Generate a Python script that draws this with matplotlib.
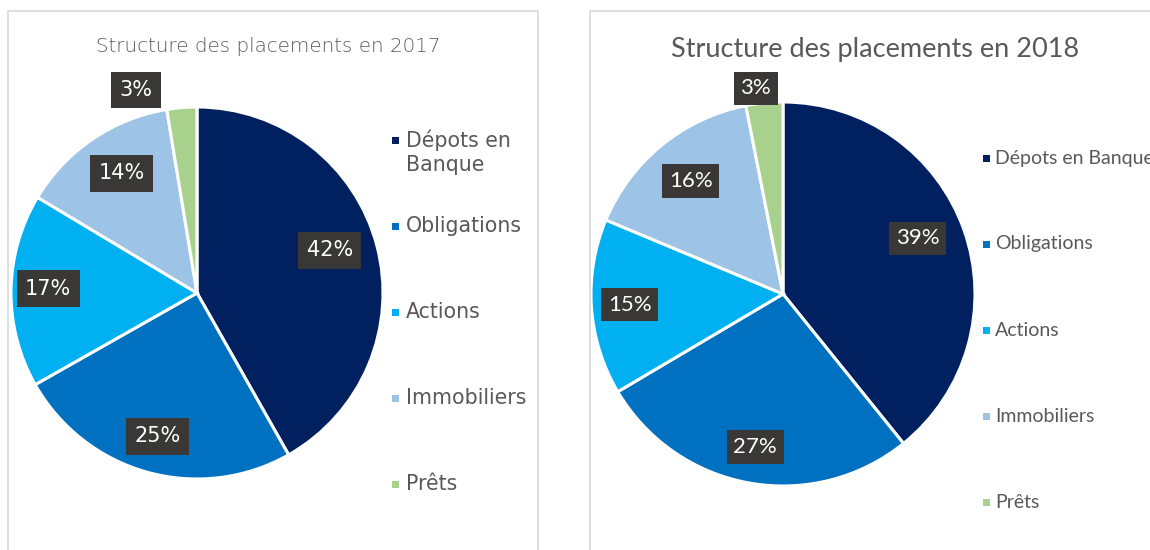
import numpy as np
import matplotlib
matplotlib.use("Agg")
import matplotlib.pyplot as plt
from matplotlib.patches import Rectangle

categories = ["Dépots en Banque", "Obligations", "Actions", "Immobiliers", "Prêts"]
legend_2017 = ["Dépots en\nBanque", "Obligations", "Actions", "Immobiliers", "Prêts"]
values_2017 = [41.8, 25.0, 16.8, 13.8, 2.6]
values_2018 = [39.2, 27.3, 14.8, 15.6, 3.1]
labels_2017 = ["42%", "25%", "17%", "14%", "3%"]
labels_2018 = ["39%", "27%", "15%", "16%", "3%"]
colors = ["#002060", "#0070C0", "#00B0F0", "#9DC3E6", "#A9D18E"]

W, H = 1150, 550
fig = plt.figure(figsize=(W / 100, H / 100), dpi=100)
fig.patch.set_facecolor("white")

def px_axes(cx, cy, r):
    return fig.add_axes([(cx - r) / W, (H - cy - r) / H, 2 * r / W, 2 * r / H])

# panel borders
fig.patches.append(Rectangle((8 / W, -0.05), 530 / W, (H - 11) / H + 0.05,
                             transform=fig.transFigure, fill=False,
                             edgecolor="#d9d9d9", lw=1.2))
fig.patches.append(Rectangle((590 / W, -0.05), 600 / W, (H - 11) / H + 0.05,
                             transform=fig.transFigure, fill=False,
                             edgecolor="#d9d9d9", lw=1.2))

def draw_pie(cx, cy, r, vals, labs, dists, nudges, font, fsize, pad):
    ax = px_axes(cx, cy, r)
    wedges, _ = ax.pie(vals, colors=colors, startangle=90, counterclock=False,
                       radius=1.0, wedgeprops=dict(edgecolor="white", linewidth=2.2))
    for w, lab, d, nd in zip(wedges, labs, dists, nudges):
        ang = np.deg2rad((w.theta1 + w.theta2) / 2 + nd)
        ax.text(d * np.cos(ang), d * np.sin(ang), lab, ha="center", va="center",
                color="white", fontsize=fsize, family=font,
                bbox=dict(boxstyle=f"square,pad={pad}", facecolor="#3a3836", edgecolor="none"),
                clip_on=False)
    ax.set_xlim(-1, 1)
    ax.set_ylim(-1, 1)
    ax.set_aspect("equal")
    ax.axis("off")
    return ax

left_font = "DejaVu Sans"
right_font = "Lato"

draw_pie(197, 293, 186, values_2017, labels_2017,
         [0.75, 0.80, 0.80, 0.76, 1.14], [3, 0, -1, -2, 12], left_font, 15, 0.4)
draw_pie(783, 294, 192, values_2018, labels_2018,
         [0.76, 0.81, 0.80, 0.76, 1.08], [3, 0, 0, 0, 2], right_font, 16, 0.3)

fig.text(268 / W, 1 - 47 / H, "Structure des placements en 2017", ha="center", va="center",
         fontsize=14.3, color="#595959", family=left_font, fontweight="light")
fig.text(875 / W, 1 - 50 / H, "Structure des placements en 2018", ha="center", va="center",
         fontsize=19.5, color="#595959", family=right_font)

def draw_legend(labels, mx, tx, y0, step, font, fsize, msize, lstep):
    for i, (lab, c) in enumerate(zip(labels, colors)):
        y = y0 + i * step
        fig.patches.append(Rectangle(((mx - msize / 2) / W, 1 - (y + msize / 2) / H),
                                     msize / W, msize / H, transform=fig.transFigure,
                                     facecolor=c, edgecolor="none"))
        for k, line in enumerate(lab.split("\n")):
            fig.text(tx / W, 1 - (y + lstep * k) / H, line, ha="left", va="center",
                     fontsize=fsize, color="#595959", family=font)

draw_legend(legend_2017, 396, 406, 140, 86, left_font, 14.8, 7, 25)
draw_legend(categories, 986, 995, 158, 86, right_font, 14, 7, 22)

fig.savefig("out.png", dpi=100, facecolor="white")
